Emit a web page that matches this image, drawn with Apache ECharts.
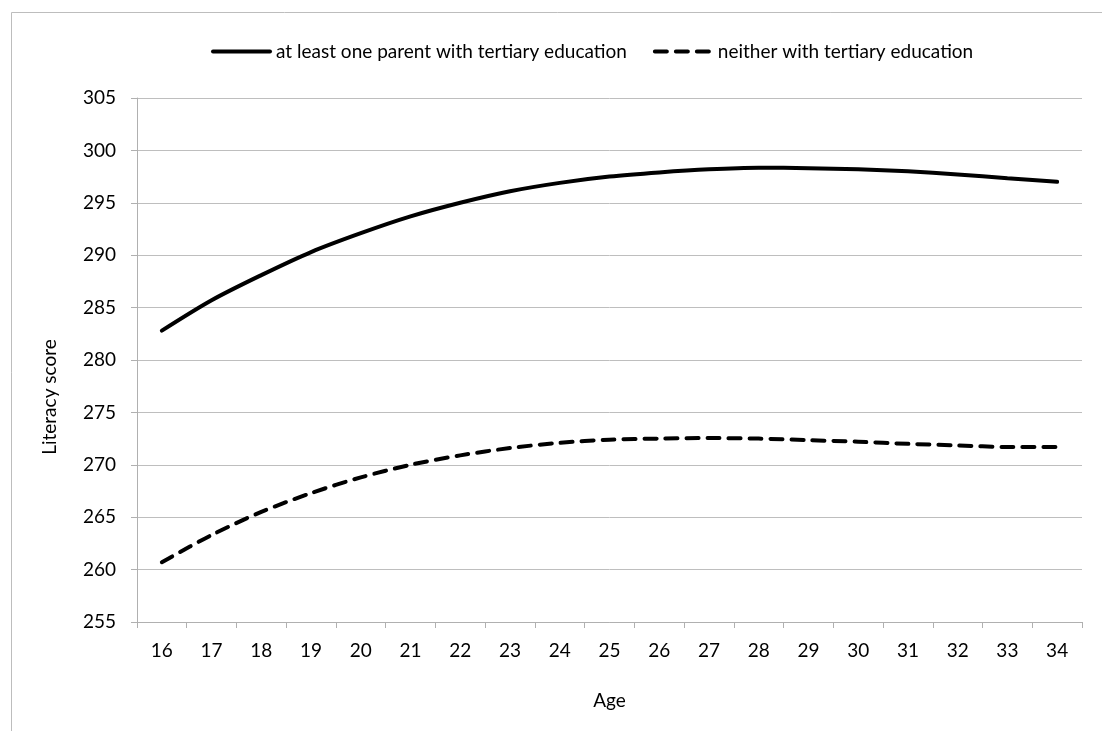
<!DOCTYPE html>
<html><head><meta charset="utf-8">
<script src="https://cdn.jsdelivr.net/npm/echarts@6/dist/echarts.min.js"></script>
<style>html,body{margin:0;padding:0;background:#fff}#c{width:1102px;height:731px}</style>
</head><body><div id="c"></div>
<script>
const ages = ['16','17','18','19','20','21','22','23','24','25','26','27','28','29','30','31','32','33','34'];
const tertiary = [282.8,285.7,288.1,290.3,292.1,293.7,295.0,296.1,296.9,297.5,297.9,298.2,298.35,298.3,298.2,298.0,297.7,297.35,297.0];
const neither = [260.7,263.3,265.5,267.3,268.8,270.0,270.9,271.6,272.1,272.4,272.5,272.55,272.5,272.35,272.2,272.0,271.85,271.7,271.7];
const seriesNames = ['at least one parent with tertiary education','neither with tertiary education'];
const yTitle = 'Literacy score';
const xTitle = 'Age';
const FONT = 'Lato';
const FS = 19;
const chart = echarts.init(document.getElementById('c'), null, {renderer:'canvas'});
chart.setOption({
  animation:false,
  backgroundColor:'#fff',
  graphic:[
    {type:'rect',x:0,y:0,shape:{x:11.5,y:12.5,width:1100,height:730},style:{fill:'none',stroke:'#bdbdbd',lineWidth:1},silent:true,z:-1},
    {type:'text',x:50,y:397,rotation:Math.PI/2,style:{text:yTitle,font:FS+'px '+FONT,fill:'#000',align:'center',verticalAlign:'middle'},silent:true}
  ],
  legend:{top:37,left:206,itemWidth:57,itemHeight:4,itemGap:26,
    itemStyle:{opacity:0},
    lineStyle:{width:4},
    textStyle:{fontFamily:FONT,fontSize:FS,color:'#000',padding:[0,0,0,1]},
    data:seriesNames},
  grid:{left:137,right:20,top:98,bottom:109,containLabel:false},
  xAxis:{type:'category',data:ages,boundaryGap:true,name:xTitle,nameLocation:'middle',nameGap:69,
    nameTextStyle:{fontFamily:FONT,fontSize:FS,color:'#000'},
    axisLine:{lineStyle:{color:'#b0b0b0',width:1}},
    axisTick:{show:true,alignWithLabel:false,length:6,lineStyle:{color:'#b0b0b0'}},
    axisLabel:{fontFamily:FONT,fontSize:FS,color:'#000',margin:19},
    splitLine:{show:false}},
  yAxis:{type:'value',min:255,max:305,interval:5,
    axisLine:{show:true,lineStyle:{color:'#b0b0b0',width:1}},
    axisTick:{show:true,length:6,lineStyle:{color:'#b0b0b0'}},
    axisLabel:{fontFamily:FONT,fontSize:FS,color:'#000',margin:21},
    splitLine:{show:true,lineStyle:{color:'#bebebe',width:1}}},
  series:[
    {name:seriesNames[0],type:'line',data:tertiary,symbol:'none',smooth:0.3,
      lineStyle:{color:'#000',width:4,cap:'round'},itemStyle:{color:'#000'}},
    {name:seriesNames[1],type:'line',data:neither,symbol:'none',smooth:0.3,
      lineStyle:{color:'#000',width:4,type:[12,9],cap:'round'},itemStyle:{color:'#000'}}
  ]
});
</script></body></html>
